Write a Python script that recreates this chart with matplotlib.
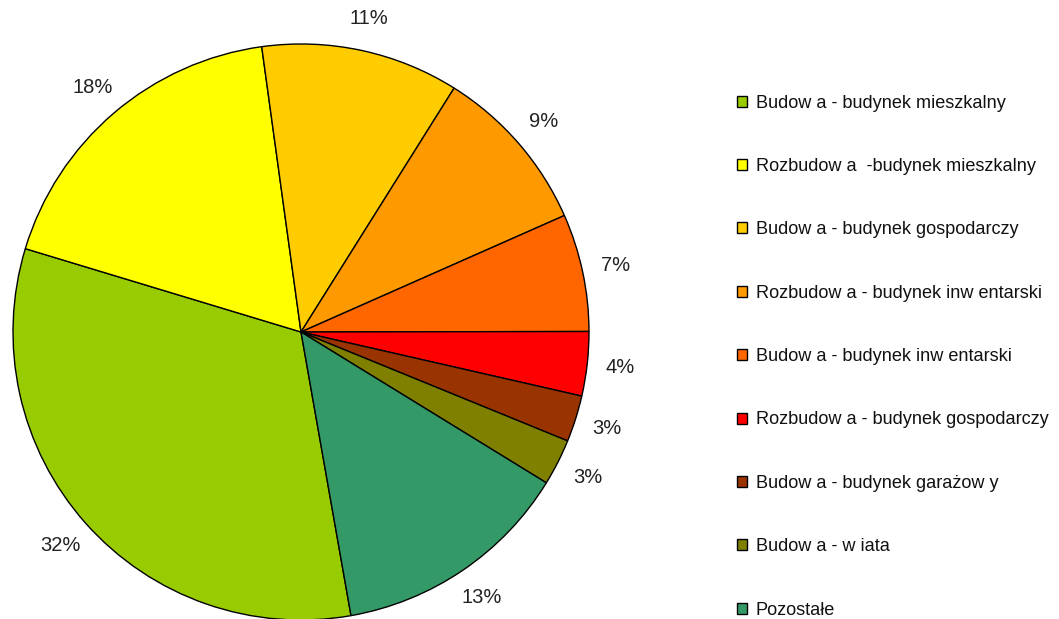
import matplotlib
matplotlib.use("Agg")
import matplotlib.pyplot as plt

# chart data
labels = ["Budow a - budynek mieszkalny",
          "Rozbudow a  -budynek mieszkalny",
          "Budow a - budynek gospodarczy",
          "Rozbudow a - budynek inw entarski",
          "Budow a - budynek inw entarski",
          "Rozbudow a - budynek gospodarczy",
          "Budow a - budynek garażow y",
          "Budow a - w iata",
          "Pozostałe"]
shares = [32.45, 18.15, 11.1, 9.45, 6.6, 3.6, 2.6, 2.6, 13.45]
colors = ["#99CC00", "#FFFF00", "#FFCC00", "#FF9900", "#FF6600",
          "#FF0000", "#993300", "#808000", "#339966"]

plt.rcParams['font.family'] = ['Liberation Sans', 'DejaVu Sans']

W, H = 1059, 619
fig = plt.figure(figsize=(W / 100, H / 100), dpi=100)

# pie axes, centre ~ (300, 332) px, radius ~ 288 px
cx, cy, r = 301, 332, 288
ax = fig.add_axes([(cx - r) / W, (H - cy - r) / H, 2 * r / W, 2 * r / H])
wedges, texts, autotexts = ax.pie(
    shares, colors=colors, startangle=-80, counterclock=False,
    autopct='%1.0f%%', pctdistance=1.115, radius=1,
    wedgeprops=dict(edgecolor='black', linewidth=1.0),
    textprops=dict(fontsize=14.5, color='#222222'))
ax.set_xlim(-1, 1)
ax.set_ylim(-1, 1)
ax.set_aspect('auto')
ax.axis('off')

leg = fig.legend(wedges, labels, loc='upper left',
                 bbox_to_anchor=(737 / W, 1 - 94.5 / H),
                 frameon=False, fontsize=13.1, handlelength=0.55,
                 handleheight=0.55, handletextpad=0.48, labelspacing=2.55,
                 borderpad=0, borderaxespad=0)
for t in leg.get_texts():
    t.set_color('#111111')
for h in leg.legend_handles:
    h.set_linewidth(1.0)

fig.savefig("out.png", dpi=100)
